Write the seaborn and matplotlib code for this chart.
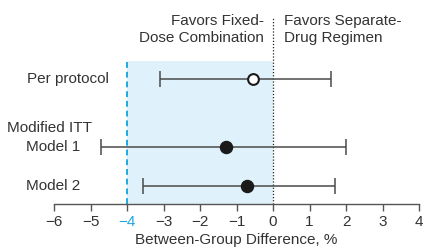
import matplotlib
matplotlib.use('Agg')
import matplotlib.pyplot as plt
import matplotlib.transforms as mtransforms
import seaborn as sns
import pandas as pd

# data
models = ['Per protocol', 'Model 1', 'Model 2']
estimate = [-0.55, -1.3, -0.7]
ci_low = [-3.1, -4.7, -3.55]
ci_high = [1.6, 2.0, 1.7]
hollow = [True, False, False]
margin = -4
xticks = [-6, -5, -4, -3, -2, -1, 0, 1, 2, 3, 4]

# layout
row_y = [0, 1.75, 2.75]
LINE = '#555555'
TEXT = '#333333'
BLUE = '#1fa9e1'
SHADE = '#dff1fb'

df = pd.DataFrame({'model': models, 'est': estimate, 'lo': ci_low,
                   'hi': ci_high, 'hollow': hollow, 'y': row_y})

sns.set_theme(style='white')
plt.rcParams['font.family'] = ['Liberation Sans', 'DejaVu Sans']

fig = plt.figure(figsize=(4.23, 2.52), dpi=100)
ax = fig.add_axes([54 / 423, 48 / 252, 365 / 423, 143 / 252])

ax.axvspan(margin, 0, color=SHADE, zorder=0, lw=0)
ax.axvline(margin, color=BLUE, ls=(0, (3, 2)), lw=1.4, zorder=1)
ax.axvline(0, ymin=0, ymax=1.31, color='#222222', ls=(0, (1, 1.5)), lw=0.9,
           clip_on=False, zorder=1)

for _, r in df.iterrows():
    ax.errorbar(r['est'], r['y'], xerr=[[r['est'] - r['lo']], [r['hi'] - r['est']]],
                fmt='none', ecolor='#4a4a4a', elinewidth=1.1, capsize=5.5, capthick=1.1,
                zorder=2)

sns.scatterplot(data=df[~df['hollow']], x='est', y='y', s=75, color='#1a1a1a',
                edgecolor='#1a1a1a', linewidth=1, ax=ax, zorder=3, legend=False)
sns.scatterplot(data=df[df['hollow']], x='est', y='y', s=60, color='white',
                edgecolor='#1a1a1a', linewidth=1.5, ax=ax, zorder=3, legend=False)

ax.set_xlim(-6, 4)
ax.set_ylim(3.21, -0.46)
ax.set_xticks(xticks)
ax.set_xticklabels([str(t).replace('-', '\u2212') for t in xticks])
ax.set_yticks([])
ax.set_ylabel('')
ax.set_xlabel('Between-Group Difference, %', fontsize=11, color=TEXT, labelpad=3)
ax.tick_params(axis='x', direction='out', length=5, width=1, color=LINE,
               labelsize=11, labelcolor=TEXT, pad=3, bottom=True)
for lbl in ax.get_xticklabels():
    if lbl.get_text() == '\u22124':
        lbl.set_color(BLUE)

for s in ['top', 'right', 'left']:
    ax.spines[s].set_visible(False)
ax.spines['bottom'].set_color(LINE)
ax.spines['bottom'].set_linewidth(1)

# row labels: x in figure fraction, y in data
row_tr = mtransforms.blended_transform_factory(fig.transFigure, ax.transData)
ax.text(109 / 423, row_y[0], models[0], transform=row_tr, ha='right', va='center',
        fontsize=11, color=TEXT)
ax.text(80 / 423, row_y[1], models[1], transform=row_tr, ha='right', va='center',
        fontsize=11, color=TEXT)
ax.text(80 / 423, row_y[2], models[2], transform=row_tr, ha='right', va='center',
        fontsize=11, color=TEXT)
ax.text(92 / 423, row_y[1] - 0.5, 'Modified ITT', transform=row_tr, ha='right',
        va='center', fontsize=11, color=TEXT)

ax.text(-0.24, 1.33, 'Favors Fixed-\nDose Combination', transform=ax.get_xaxis_transform(),
        ha='right', va='top', fontsize=11, color=TEXT, linespacing=1.3)
ax.text(0.3, 1.33, 'Favors Separate-\nDrug Regimen', transform=ax.get_xaxis_transform(),
        ha='left', va='top', fontsize=11, color=TEXT, linespacing=1.3)

fig.savefig('out.png', dpi=100)
